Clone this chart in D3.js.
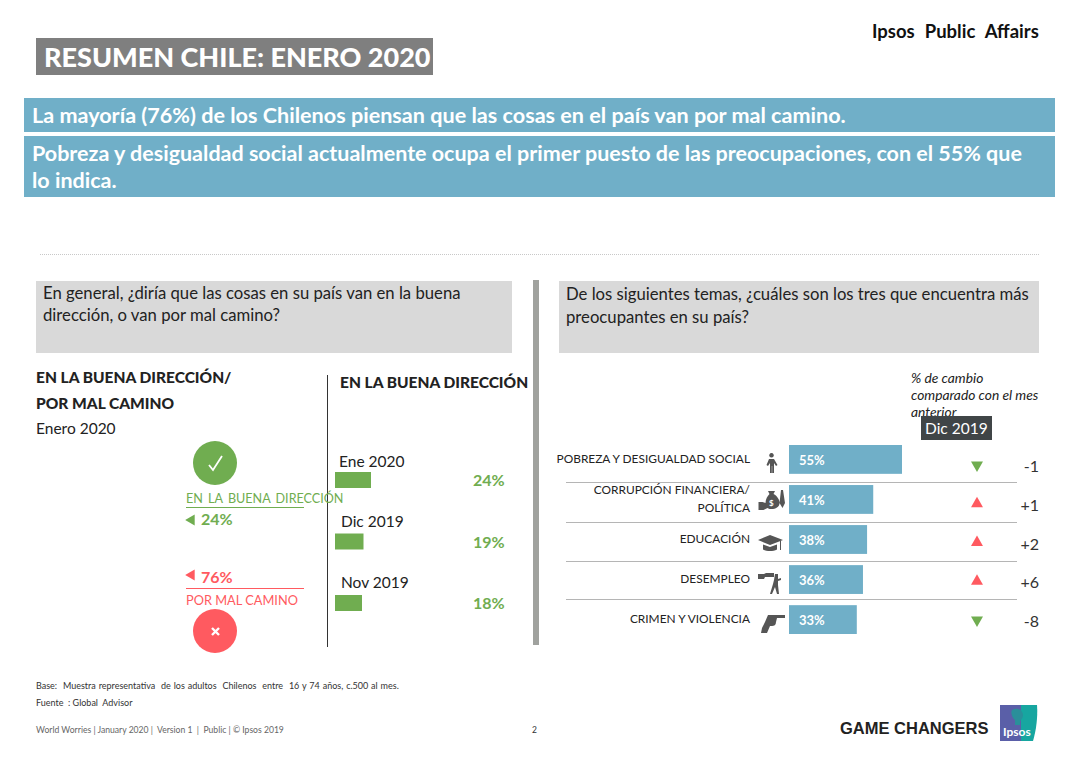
<!DOCTYPE html>
<html>
<head>
<meta charset="utf-8">
<script src="https://cdn.jsdelivr.net/npm/d3@7"></script>
<style>
  html, body { margin: 0; padding: 0; background: #fff; }
  svg { display: block; font-family: Lato, sans-serif; }
</style>
</head>
<body>
<div id="chart"></div>
<script>
// left panel: share saying "good direction" by month
const months = ["Ene 2020", "Dic 2019", "Nov 2019"];
const monthValues = [24, 19, 18];
const monthLabelX = [339, 341, 341];
const monthLabelGap = [5, 7, 7];

// right panel: top worries
const topics = ["POBREZA Y DESIGUALDAD SOCIAL", "CORRUPCIÓN FINANCIERA/|POLÍTICA", "EDUCACIÓN", "DESEMPLEO", "CRIMEN Y VIOLENCIA"];
const topicValues = [55, 41, 38, 36, 33];
const topicChanges = [-1, 1, 2, 6, -8];

const GREEN = "#70ad50", RED = "#ff5a60", BLUE = "#70afc8", INK = "#222", ICON = "#555";

const svg = d3.select("#chart").append("svg").attr("width", 1087).attr("height", 759);

// small helper, all the slide text goes through here
function label(x, y, str, size, opt = {}) {
  return svg.append("text")
    .attr("x", x).attr("y", y)
    .attr("font-size", size)
    .attr("font-weight", opt.weight || 400)
    .attr("font-style", opt.style || "normal")
    .attr("text-anchor", opt.anchor || "start")
    .attr("word-spacing", opt.words || 0)
    .attr("fill", opt.fill || INK)
    .text(str);
}
function box(x, y, w, h, fill) {
  return svg.append("rect").attr("x", x).attr("y", y).attr("width", w).attr("height", h).attr("fill", fill);
}
function rule(x1, x2, y, stroke, width = 1) {
  return svg.append("line").attr("x1", x1).attr("x2", x2).attr("y1", y).attr("y2", y)
    .attr("stroke", stroke).attr("stroke-width", width);
}

// header
label(872, 38, "Ipsos Public Affairs", 18.5, { weight: 700, fill: "#111", words: 5.5 });
box(36, 38, 397, 37, "#7f7f7f");
label(44, 67, "RESUMEN CHILE: ENERO 2020", 27, { weight: 900, fill: "#fff" });

box(24, 98, 1031, 34, BLUE);
box(24, 136, 1031, 61, BLUE);
label(32, 123, "La mayoría (76%) de los Chilenos piensan que las cosas en el país van por mal camino.", 21.6, { weight: 700, fill: "#fff" });
label(32, 161, "Pobreza y desigualdad social actualmente ocupa el primer puesto de las preocupaciones, con el 55% que", 21.5, { weight: 700, fill: "#fff" });
label(32, 188, "lo indica.", 21.5, { weight: 700, fill: "#fff" });

rule(40, 1040, 254.5, "#c8c8c8").attr("stroke-dasharray", "1 1");

// question boxes
box(36, 281, 476, 72, "#d9d9d9");
box(559, 281, 480, 72, "#d9d9d9");
box(533, 280, 6, 365, "#a0a29e");
label(43, 299, "En general, ¿diría que las cosas en su país van en la buena", 16.7);
label(43, 321, "dirección, o van por mal camino?", 16.7);
label(566, 300, "De los siguientes temas, ¿cuáles son los tres que encuentra más", 16.7);
label(566, 323, "preocupantes en su país?", 16.7);

// left column headings
label(36, 383, "EN LA BUENA DIRECCIÓN/", 15.5, { weight: 900 });
label(36, 409, "POR MAL CAMINO", 15.5, { weight: 900 });
label(36, 434, "Enero 2020", 15.5);
label(340, 388, "EN LA BUENA DIRECCIÓN", 15.5, { weight: 900 });
svg.append("line").attr("x1", 327.5).attr("x2", 327.5).attr("y1", 375).attr("y2", 647).attr("stroke", "#333");

// good / bad summary
svg.append("circle").attr("cx", 215).attr("cy", 463).attr("r", 22).attr("fill", GREEN);
svg.append("path").attr("d", "M209 465 L213 470 L222 456").attr("fill", "none").attr("stroke", "#fff").attr("stroke-width", 1.8);
label(186, 503, "EN LA BUENA DIRECCIÓN", 12.6, { fill: GREEN, words: 2 });
rule(186, 304, 507.5, GREEN);
svg.append("path").attr("d", d3.symbol(d3.symbolTriangle, 52)).attr("fill", GREEN).attr("transform", "translate(191.5,520) rotate(-90)");
label(201, 525, "24%", 16, { weight: 700, fill: GREEN });

svg.append("path").attr("d", d3.symbol(d3.symbolTriangle, 52)).attr("fill", RED).attr("transform", "translate(191.5,575) rotate(-90)");
label(201, 583, "76%", 16, { weight: 700, fill: RED });
rule(186, 304, 588.5, RED);
label(186, 605, "POR MAL CAMINO", 12.8, { fill: RED });
svg.append("circle").attr("cx", 215).attr("cy", 631).attr("r", 22).attr("fill", RED);
svg.append("path").attr("d", "M212 628 L219 635 M219 628 L212 635").attr("fill", "none").attr("stroke", "#fff").attr("stroke-width", 2.4);

// month bars
const xMonth = d3.scaleLinear().domain([0, 24]).range([335, 371]);
const yMonth = d3.scaleBand().domain(months).range([472, 611]).paddingInner(0.74).paddingOuter(0);
const monthRows = svg.append("g").selectAll("g").data(months).join("g");
monthRows.append("rect")
  .attr("x", xMonth(0))
  .attr("y", d => yMonth(d))
  .attr("width", (d, i) => xMonth(monthValues[i]) - xMonth(0))
  .attr("height", yMonth.bandwidth())
  .attr("fill", GREEN);
monthRows.append("text")
  .attr("x", (d, i) => monthLabelX[i])
  .attr("y", (d, i) => yMonth(d) - monthLabelGap[i])
  .attr("font-size", 15.5).attr("fill", INK)
  .text(d => d);
monthRows.append("text")
  .attr("x", 473)
  .attr("y", d => yMonth(d) + 14)
  .attr("font-size", 16).attr("font-weight", 700).attr("fill", GREEN)
  .text((d, i) => monthValues[i] + "%");

// change header
label(911, 383, "% de cambio", 13.8, { style: "italic" });
label(911, 400, "comparado con el mes", 13.8, { style: "italic" });
label(911, 417, "anterior", 13.8, { style: "italic" });
box(921, 416, 71, 24, "#404547");
label(925, 434, "Dic 2019", 15.5, { fill: "#fff" });

// topic bars
const xTopic = d3.scaleLinear().domain([0, 55]).range([789, 902]);
const yTopic = d3.scaleBand().domain(topics).range([445, 634]).paddingInner(0.28).paddingOuter(0);
const yChange = d3.scalePoint().domain(topics).range([465, 620]);
const separators = [482.5, 522.5, 561.5, 599.5];
svg.append("g").selectAll("line").data(separators).join("line")
  .attr("x1", 566).attr("x2", 1017)
  .attr("y1", d => d).attr("y2", d => d)
  .attr("stroke", "#b5b5b5").attr("stroke-width", 1);

const topicRows = svg.append("g").selectAll("g").data(topics).join("g");
topicRows.append("rect")
  .attr("x", xTopic(0))
  .attr("y", d => yTopic(d))
  .attr("width", (d, i) => xTopic(topicValues[i]) - xTopic(0))
  .attr("height", yTopic.bandwidth())
  .attr("fill", BLUE);
topicRows.append("text")
  .attr("x", xTopic(0) + 10)
  .attr("y", d => yTopic(d) + 20)
  .attr("font-size", 13).attr("font-weight", 700).attr("fill", "#fff")
  .text((d, i) => topicValues[i] + "%");
topicRows.each(function (d) {
  const parts = d.split("|");
  const row = d3.select(this);
  parts.forEach((p, j) => {
    row.append("text")
      .attr("x", 750).attr("text-anchor", "end")
      .attr("y", parts.length > 1 ? yTopic(d) + 9 + j * 18 : yTopic(d) + 18)
      .attr("font-size", 11.9).attr("fill", INK)
      .text(p);
  });
});
topicRows.append("path")
  .attr("d", d3.symbol(d3.symbolTriangle, 62))
  .attr("fill", (d, i) => topicChanges[i] < 0 ? GREEN : RED)
  .attr("transform", (d, i) => `translate(977,${yChange(d)}) rotate(${topicChanges[i] < 0 ? 180 : 0})`);
topicRows.append("text")
  .attr("x", 1039).attr("text-anchor", "end")
  .attr("y", d => yChange(d) + 7)
  .attr("font-size", 16).attr("fill", "#333")
  .text((d, i) => (topicChanges[i] > 0 ? "+" : "") + topicChanges[i]);

// topic icons, rough silhouettes
const icons = [
  "M771.5 453a2.3 2.3 0 1 0 .01 0ZM769 459h5l3.5 6-1.5 1-2-3v10h-1.8v-7h-.4v7H770v-10l-2 3-1.5-1Z",
  "M768 491h7l-1.5 3c4 2 6 6 6 9 0 4-4 6-8 6-1 0-3 0-4-1l-4 2h-5v-8h4l3 1c0-4 2-7 4-9ZM781 490l2 0 2 13-2.5 5-3-5Z",
  "M770 535l13 5-13 5-12-5ZM763 544.5l7 2.5 7-2.5v5c-4 2-10 2-14 0ZM780 541h1v9h-1Z",
  "M758 574h6l2-1h8v4h-9l-1 2h-6ZM775 574h3v5l3-1v2l-3 1v4l1 9h-2l-2-7-3 7h-2l3-10 1-4Z",
  "M768 615h17v3h-8l-1 4c0 3-2 4-4 4l-2 0-3 7h-6l1-5 3-6Z"
];
svg.append("g").selectAll("path").data(icons).join("path").attr("d", d => d).attr("fill", ICON);
label(769, 506, "$", 8, { weight: 700, fill: "#fff" });

// footer
label(36, 689, "Base:  Muestra representativa  de los adultos  Chilenos  entre  16 y 74 años, c.500 al mes.", 9, { fill: "#333", words: 0.6 }).style("white-space", "pre");
label(36, 706, "Fuente  : Global  Advisor", 9, { fill: "#333" }).style("white-space", "pre");
label(36, 733, "World Worries | January 2020 |  Version 1  |  Public | © Ipsos 2019", 8.6, { fill: "#666" }).style("white-space", "pre");
label(532, 733, "2", 8.5, { fill: "#333" });
svg.append("text").attr("x", 840).attr("y", 734).attr("font-family", "Liberation Sans").attr("font-size", 16.5).attr("font-weight", 700).attr("fill", "#222").text("GAME CHANGERS");

// logo
box(1000, 705, 21, 36, "#5a5fa8");
svg.append("path").attr("d", "M1021 705h16c1 12-1 26-4 36h-12Z").attr("fill", "#17a6a0");
svg.append("path").attr("d", "M1012 710c5-3 11 0 11 5 0 3-2 5-3 6v4h-5v-5c-2-1-5-7-3-10Z").attr("fill", "#2a8f9a");
label(1003, 736, "Ipsos", 12, { weight: 700, fill: "#fff" });
</script>
</body>
</html>
